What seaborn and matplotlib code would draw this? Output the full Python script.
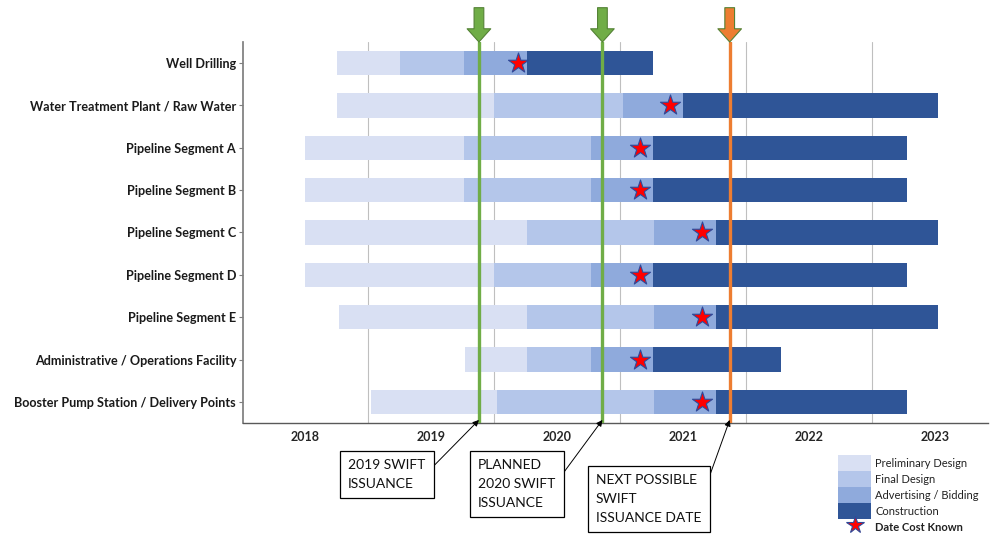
import numpy as np
import seaborn as sns
import matplotlib.pyplot as plt
import matplotlib.transforms as mtransforms
from matplotlib.patches import Patch
from matplotlib.lines import Line2D

# project rows, top to bottom
tasks = ["Well Drilling", "Water Treatment Plant / Raw Water", "Pipeline Segment A",
         "Pipeline Segment B", "Pipeline Segment C", "Pipeline Segment D",
         "Pipeline Segment E", "Administrative / Operations Facility",
         "Booster Pump Station / Delivery Points"]

# phase boundaries in decimal years
prelim_start = [2018.25, 2018.25, 2018.0, 2018.0, 2018.0, 2018.0, 2018.27, 2019.27, 2018.52]
final_start = [2018.75, 2019.5, 2019.26, 2019.26, 2019.76, 2019.5, 2019.76, 2019.76, 2019.52]
adv_start = [2019.26, 2020.52, 2020.27, 2020.27, 2020.77, 2020.27, 2020.77, 2020.27, 2020.77]
const_start = [2019.76, 2021.0, 2020.76, 2020.76, 2021.26, 2020.76, 2021.26, 2020.76, 2021.26]
const_end = [2020.76, 2023.02, 2022.78, 2022.78, 2023.02, 2022.78, 2023.02, 2021.78, 2022.78]
cost_known = [2019.69, 2020.9, 2020.66, 2020.66, 2021.15, 2020.66, 2021.15, 2020.66, 2021.15]

phase_names = ["Preliminary Design", "Final Design", "Advertising / Bidding", "Construction"]
phase_colors = ["#D9E0F3", "#B4C6EA", "#8FAADC", "#2F5597"]

issuance_dates = [2019.38, 2020.36, 2021.37]
issuance_colors = ["#70AD47", "#70AD47", "#ED7D31"]
issuance_labels = ["2019 SWIFT\nISSUANCE", "PLANNED\n2020 SWIFT\nISSUANCE",
                   "NEXT POSSIBLE\nSWIFT\nISSUANCE DATE"]
# top-left corner of each callout box text (figure pixels from top-left)
box_corners = [(348, 459), (478, 459), (596, 474)]

years = [2018, 2019, 2020, 2021, 2022, 2023]

sns.set_theme(style="white")
plt.rcParams["font.family"] = ["Lato", "DejaVu Sans"]

fig = plt.figure(figsize=(9.9, 5.39), dpi=100)
ax = fig.add_axes([0.2455, 0.2152, 0.7525, 0.7069])

# stacked gantt segments
bounds = [prelim_start, final_start, adv_start, const_start, const_end]
for i, color in enumerate(phase_colors):
    start = np.array(bounds[i])
    end = np.array(bounds[i + 1])
    sns.barplot(x=end - start, y=tasks, left=start, color=color, orient="y",
                width=0.58, saturation=1, errorbar=None, linewidth=0,
                zorder=2, ax=ax)

# date cost known stars
sns.scatterplot(x=cost_known, y=np.arange(len(tasks)), marker="*", s=230,
                color="#FF0000", edgecolor="#2E4A9A", linewidth=0.8,
                zorder=5, legend=False, ax=ax)

ax.set_xlim(2017.508, 2023.42)
ax.set_ylim(8.5, -0.5)
ax.set_xticks(years)
ax.set_xticklabels([str(y) for y in years], fontweight="bold", fontsize=9, color="#262626")
ax.set_xticks([y + 0.5 for y in years[:-1]], minor=True)
ax.grid(which="minor", axis="x", color="#BFBFBF", lw=0.8)
ax.grid(which="major", visible=False)
ax.set_axisbelow(True)
ax.tick_params(axis="x", which="both", length=0, pad=6)
ax.tick_params(axis="y", left=True, length=3, width=0.8, color="#7F7F7F", pad=2)
for lbl in ax.get_yticklabels():
    lbl.set_fontweight("bold")
    lbl.set_fontsize(9.1)
    lbl.set_color("#1A1A1A")
ax.set_xlabel("")
ax.set_ylabel("")
sns.despine(ax=ax, top=True, right=True)
ax.spines["left"].set_color("#7F7F7F")
ax.spines["bottom"].set_color("#595959")
ax.spines["bottom"].set_linewidth(1.0)

trans = mtransforms.blended_transform_factory(ax.transData, ax.transAxes)

# issuance lines, block arrows and callouts
for d, c, label, (bx, by) in zip(issuance_dates, issuance_colors, issuance_labels, box_corners):
    ax.axvline(d, color=c, lw=2.4, zorder=3)
    ax.annotate("", xy=(d, 1.0), xytext=(d, 1.09), xycoords=trans, textcoords=trans,
                annotation_clip=False,
                arrowprops=dict(arrowstyle="simple,head_length=0.95,head_width=1.7,tail_width=0.7",
                                fc=c, ec="#548235", lw=0.8, shrinkA=0, shrinkB=0,
                                mutation_scale=10))
    ax.annotate(label, xy=(d, 0.008), xycoords=trans,
                xytext=(bx / 990, 1 - by / 539), textcoords="figure fraction",
                ha="left", va="top", fontsize=10, linespacing=1.68, color="#111111",
                annotation_clip=False,
                bbox=dict(boxstyle="square,pad=0.6", fc="white", ec="black", lw=0.9),
                arrowprops=dict(arrowstyle="-|>", color="black", lw=0.7, shrinkA=0,
                                shrinkB=0, relpos=(1, 0.5), mutation_scale=9))

# legend
handles = [Patch(facecolor=c, edgecolor="none", label=n) for c, n in zip(phase_colors, phase_names)]
handles.append(Line2D([], [], marker="*", linestyle="None", markersize=13,
                      markerfacecolor="#FF0000", markeredgecolor="#2E4A9A",
                      markeredgewidth=0.8, label="Date Cost Known"))
leg = fig.legend(handles=handles, loc="upper left", bbox_to_anchor=(838 / 990, 1 - 455 / 539),
                 bbox_transform=fig.transFigure, frameon=False, fontsize=8,
                 labelspacing=0, handleheight=1.85, handlelength=3.0,
                 handletextpad=0.35, borderpad=0, borderaxespad=0)
for t in leg.get_texts():
    t.set_color("#222222")
leg.get_texts()[-1].set_fontweight("bold")

fig.savefig("out.png", dpi=100)
